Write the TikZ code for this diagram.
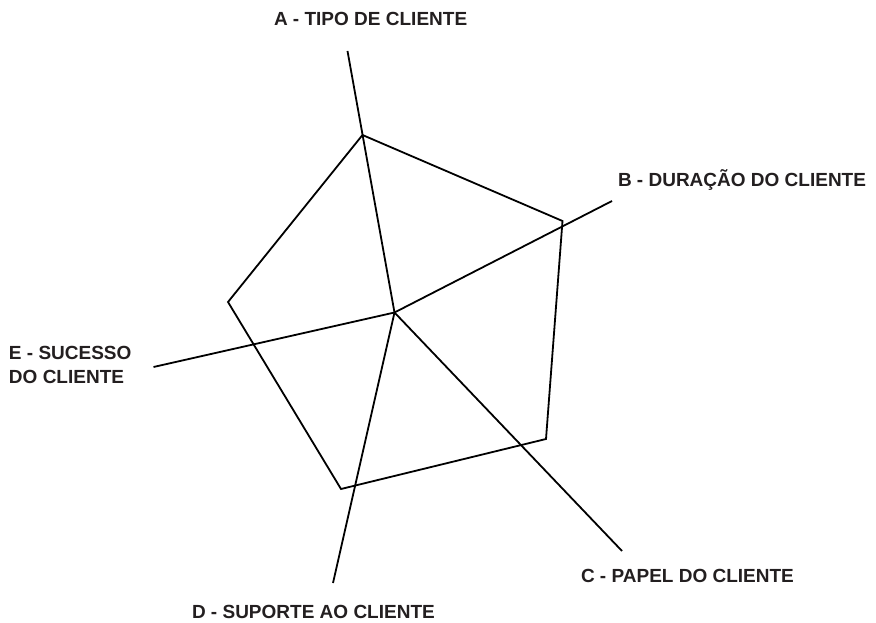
\documentclass[tikz,border=0pt]{standalone}
\usepackage{fontspec}
\setmainfont{Liberation Sans}
\definecolor{inkc}{HTML}{231F20}
\begin{document}
\begin{tikzpicture}[x=1pt,y=-1pt,
  axisline/.style={draw=black,line width=1.8pt,line cap=butt},
  polyline/.style={draw=black,line width=1.8pt,line join=miter},
  lbl/.style={inner sep=0pt,outer sep=0pt,text=inkc,font=\fontsize{19}{24}\selectfont\bfseries}]
\useasboundingbox (0,0) rectangle (876,623);
% center and axis ends
\coordinate (O) at (394.5,312.5);
\coordinate (Ae) at (347.5,51);
\coordinate (Be) at (612,201);
\coordinate (Ce) at (622,551);
\coordinate (De) at (333,583);
\coordinate (Ee) at (153.5,367);
% pentagon vertices
\coordinate (Av) at (362.5,135);
\coordinate (Bv) at (562.5,221);
\coordinate (Cv) at (546,439);
\coordinate (Dv) at (341,489);
\coordinate (Ev) at (228,302);
% axes
\draw[axisline] (O) -- (Ae);
\draw[axisline] (O) -- (Be);
\draw[axisline] (O) -- (Ce);
\draw[axisline] (O) -- (De);
\draw[axisline] (O) -- (Ee);
% pentagon
\draw[polyline] (Av) -- (Bv) -- (Cv) -- (Dv) -- (Ev) -- cycle;
% labels
\node[lbl,anchor=base west] (La) at (274,26) {A - TIPO DE CLIENTE};
\node[lbl,anchor=base west] (Lb) at (618,186) {B - DURAÇÃO DO CLIENTE};
\node[lbl,anchor=base west] (Lc) at (581,582) {C - PAPEL DO CLIENTE};
\node[lbl,anchor=base west] (Ld) at (192,618) {D - SUPORTE AO CLIENTE};
\node[lbl,anchor=base west] (Le1) at (9,359) {E - SUCESSO};
\node[lbl,anchor=base west] (Le2) at (9,383) {DO CLIENTE};
\end{tikzpicture}
\end{document}
